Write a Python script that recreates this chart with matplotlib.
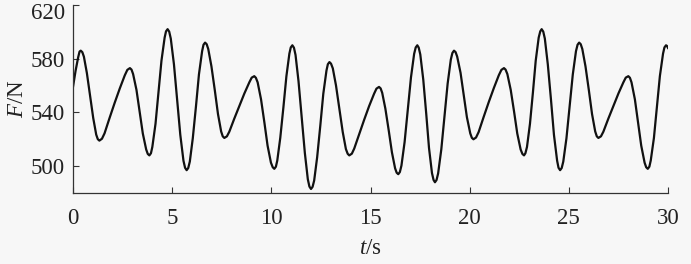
import matplotlib
matplotlib.use('Agg')
import matplotlib.pyplot as plt
import matplotlib.transforms as mtransforms

plt.rcParams['font.family'] = ['Liberation Serif', 'DejaVu Serif']
plt.rcParams['mathtext.fontset'] = 'custom'
plt.rcParams['mathtext.rm'] = 'Liberation Serif'
plt.rcParams['mathtext.it'] = 'Liberation Serif:italic'

# Werte (Zeit in s, Kraft in N)
t = [0.00, 0.13, 0.26, 0.33, 0.39,
     0.47, 0.55, 0.70, 0.86, 1.02, 1.17, 1.25, 1.33,
     1.46, 1.59, 1.84, 2.10, 2.36, 2.61, 2.74, 2.87,
     2.95, 3.03, 3.20, 3.36, 3.52, 3.69, 3.77, 3.85,
     3.93, 4.00, 4.16, 4.31, 4.46, 4.62, 4.69, 4.77,
     4.85, 4.93, 5.09, 5.25, 5.41, 5.57, 5.65, 5.73,
     5.81, 5.89, 6.04, 6.20, 6.35, 6.51, 6.58, 6.66,
     6.74, 6.82, 6.98, 7.15, 7.31, 7.47, 7.55, 7.63,
     7.76, 7.88, 8.13, 8.39, 8.64, 8.89, 9.01, 9.14,
     9.22, 9.31, 9.48, 9.65, 9.81, 9.98, 10.07, 10.15,
     10.23, 10.30, 10.45, 10.61, 10.76, 10.91, 10.98, 11.06,
     11.14, 11.22, 11.37, 11.53, 11.69, 11.84, 11.92, 12.00,
     12.08, 12.16, 12.31, 12.47, 12.62, 12.78, 12.85, 12.93,
     13.01, 13.10, 13.26, 13.43, 13.60, 13.76, 13.85, 13.93,
     14.06, 14.18, 14.43, 14.68, 14.93, 15.18, 15.30, 15.43,
     15.51, 15.59, 15.75, 15.92, 16.08, 16.24, 16.32, 16.40,
     16.48, 16.56, 16.72, 16.88, 17.04, 17.20, 17.28, 17.36,
     17.43, 17.51, 17.66, 17.81, 17.95, 18.10, 18.18, 18.25,
     18.33, 18.41, 18.57, 18.73, 18.89, 19.05, 19.13, 19.21,
     19.29, 19.37, 19.54, 19.70, 19.86, 20.03, 20.11, 20.19,
     20.32, 20.45, 20.70, 20.96, 21.22, 21.47, 21.60, 21.73,
     21.81, 21.90, 22.07, 22.24, 22.40, 22.57, 22.66, 22.74,
     22.81, 22.89, 23.04, 23.19, 23.33, 23.48, 23.56, 23.63,
     23.71, 23.79, 23.94, 24.10, 24.25, 24.41, 24.48, 24.56,
     24.64, 24.72, 24.88, 25.04, 25.20, 25.36, 25.44, 25.52,
     25.60, 25.68, 25.84, 26.01, 26.17, 26.33, 26.41, 26.49,
     26.62, 26.74, 26.99, 27.25, 27.50, 27.75, 27.87, 28.00,
     28.08, 28.16, 28.33, 28.49, 28.65, 28.82, 28.90, 28.98,
     29.06, 29.13, 29.29, 29.44, 29.59, 29.75, 29.82, 29.90,
     29.95, 30.00]

F = [559, 571, 581, 585.3, 586,
     584.9, 581.5, 569.3, 552.5, 535.8, 523.5, 520.1, 519,
     520.4, 524.4, 535.7, 547.1, 557.9, 567.6, 571.7, 573,
     571.9, 568.6, 556.8, 540.5, 524.3, 512.4, 509.1, 508,
     509.6, 514.3, 531.5, 555, 578.5, 595.7, 600.4, 602,
     600.2, 595, 575.8, 549.5, 523.3, 504, 498.8, 497,
     498.6, 503.4, 520.8, 544.5, 568.3, 585.6, 590.4, 592,
     590.8, 587.2, 574.3, 556.5, 538.8, 525.8, 522.2, 521,
     522.2, 525.6, 535.3, 544.9, 554.1, 562.4, 565.9, 567,
     565.8, 562.4, 549.8, 532.5, 515.3, 502.6, 499.2, 498,
     499.6, 504.2, 521, 544, 567, 583.8, 588.4, 590,
     588.2, 582.8, 563.3, 536.5, 509.8, 490.2, 484.8, 483,
     484.6, 489.3, 506.6, 530.3, 553.9, 571.2, 575.9, 577.5,
     576.3, 572.8, 560.1, 542.8, 525.4, 512.7, 509.2, 508,
     509.3, 513.1, 523.8, 534.5, 544.7, 553.9, 557.7, 559,
     557.9, 554.6, 542.8, 526.5, 510.3, 498.4, 495.1, 494,
     495.6, 500.4, 518, 542, 566, 583.6, 588.4, 590,
     588.3, 583.2, 564.5, 539, 513.5, 494.8, 489.7, 488,
     489.7, 494.6, 512.5, 537, 561.5, 579.4, 584.3, 586,
     584.9, 581.6, 569.5, 553, 536.5, 524.4, 521.1, 520,
     521.3, 525.3, 536.4, 547.6, 558.2, 567.7, 571.7, 573,
     571.9, 568.6, 556.8, 540.5, 524.3, 512.4, 509.1, 508,
     509.6, 514.3, 531.5, 555, 578.5, 595.7, 600.4, 602,
     600.2, 595, 575.8, 549.5, 523.3, 504, 498.8, 497,
     498.6, 503.4, 520.8, 544.5, 568.3, 585.6, 590.4, 592,
     590.8, 587.2, 574.3, 556.5, 538.8, 525.8, 522.2, 521,
     522.2, 525.6, 535.3, 544.9, 554.1, 562.4, 565.9, 567,
     565.8, 562.4, 549.8, 532.5, 515.3, 502.6, 499.2, 498,
     499.6, 504.2, 521, 544, 567, 583.8, 588.4, 590,
     589.5, 588]

x_ticks = [0, 5, 10, 15, 20, 25, 30]
y_ticks = [500, 540, 580, 620]

bg = '#f7f7f7'
fig = plt.figure(figsize=(6.91, 2.64), dpi=100, facecolor=bg)
ax = fig.add_axes([73/691, 1 - 193/264, (668 - 73)/691, (193 - 5)/264])
ax.set_facecolor(bg)

ax.plot(t, F, color='#111111', linewidth=1.6, solid_joinstyle='round')

ax.set_xlim(0, 30)
ax.set_ylim(480, 620)
ax.set_xticks(x_ticks)
ax.set_yticks(y_ticks)

for s in ['top', 'right']:
    ax.spines[s].set_visible(False)
for s in ['left', 'bottom']:
    ax.spines[s].set_color('#333333')
    ax.spines[s].set_linewidth(0.9)

fs = 16.5
ax.tick_params(axis='both', direction='in', length=4.5, width=0.8,
               colors='#333333', labelsize=fs, labelcolor='#222222')
ax.tick_params(axis='x', pad=11)
ax.tick_params(axis='y', pad=6)

ax.set_xlabel(r'$t$/s', fontsize=fs, color='#222222', labelpad=6)
ax.set_ylabel(r'$F$/N', fontsize=fs, color='#222222', labelpad=2)

# oberste Beschriftung etwas nach unten, damit sie nicht abgeschnitten wird
top_tick = ax.yaxis.get_major_ticks()[-1]
shift = mtransforms.ScaledTranslation(0, -4.5/72, fig.dpi_scale_trans)
top_tick.label1.set_transform(top_tick.label1.get_transform() + shift)

fig.savefig('out.png', dpi=100, facecolor=bg)
